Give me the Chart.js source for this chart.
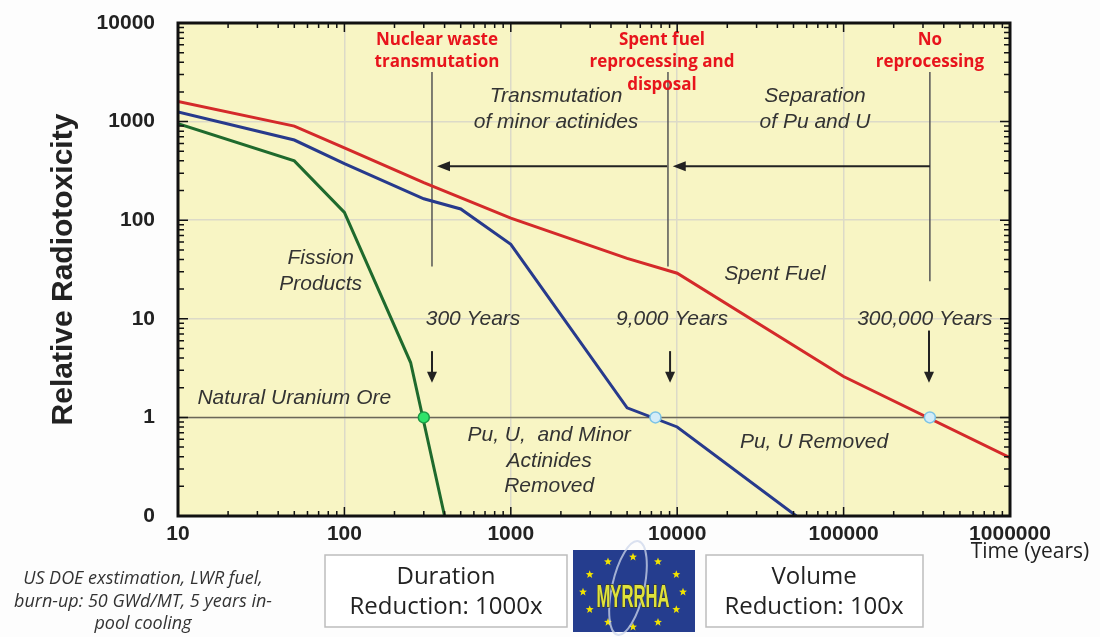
<!DOCTYPE html>
<html>
<head>
<meta charset="utf-8">
<script src="https://cdn.jsdelivr.net/npm/chart.js@4.4.1/dist/chart.umd.min.js"></script>
<style>
  html, body { margin: 0; padding: 0; background: #fdfdfd; }
  #wrap { width: 1100px; height: 637px; }
</style>
</head>
<body>
<div id="wrap"><canvas id="chart" width="1100" height="637"></canvas></div>
<script>
// values: time in years, relative radiotoxicity
const spentFuelYears = [10, 50, 100, 300, 1000, 5000, 10000, 100000, 1000000];
const spentFuelTox = [1600, 900, 540, 240, 105, 41, 29, 2.6, 0.39];

const puURemovedYears = [10, 50, 100, 300, 500, 1000, 5000, 10000, 52000];
const puURemovedTox = [1250, 650, 375, 165, 130, 57, 1.25, 0.8, 0.1];

const fissionYears = [10, 50, 100, 250, 400];
const fissionTox = [950, 400, 120, 3.6, 0.1];

const oreYears = [10, 1000000];
const oreTox = [1, 1];

// where each curve drops to the uranium ore level
const crossYears = [300, 7400, 330000];
const crossTox = [1, 1, 1];

const xTicks = [10, 100, 1000, 10000, 100000, 1000000];
const yTicks = [0.1, 1, 10, 100, 1000, 10000];

// annotation lines, in data units
const dividerYears = [336, 8800, 330000];
const dividerTop = [3180, 3180, 3180];
const dividerBottom = [34, 34, 24];
const arrowStart = [8700, 330000];
const arrowEnd = [360, 9400];
const arrowLevel = 352;
const dropYears = [336, 9060, 326000];
const dropFrom = [4.7, 4.7, 7.6];
const dropTo = [2.25, 2.25, 2.25];

const redLabels = [
  ['Nuclear waste', 360, 6710], ['transmutation', 360, 4020],
  ['Spent fuel', 8100, 6710], ['reprocessing and', 8100, 4020], ['disposal', 8100, 2345],
  ['No', 330000, 6710], ['reprocessing', 330000, 4020]
];
const noteLabels = [
  ['Transmutation', 1870, 1810], ['of minor actinides', 1870, 986],
  ['Separation', 67300, 1810], ['of Pu and U', 67300, 986],
  ['Fission', 72, 41], ['Products', 72, 22.3],
  ['Spent Fuel', 38700, 28.1],
  ['300 Years', 593, 10], ['9,000 Years', 9310, 10], ['300,000 Years', 308000, 10],
  ['Natural Uranium Ore', 50, 1.55],
  ['Pu, U,  and Minor', 1700, 0.665], ['Actinides', 1700, 0.362], ['Removed', 1700, 0.202],
  ['Pu, U Removed', 66400, 0.565]
];

function pts(xs, ys) {
  return xs.map((x, i) => ({ x: x, y: ys[i] }));
}

const decorPlugin = {
  id: 'decor',
  beforeDraw(chart) {
    const { ctx, chartArea: a } = chart;
    ctx.save();
    ctx.fillStyle = '#f8f5c4';
    ctx.fillRect(a.left, a.top, a.right - a.left, a.bottom - a.top);
    ctx.restore();
  },
  beforeDatasetsDraw(chart) {
    const { ctx, scales: { x, y } } = chart;
    ctx.save();
    ctx.strokeStyle = '#555';
    ctx.lineWidth = 1.5;
    dividerYears.forEach((t, i) => {
      const px = x.getPixelForValue(t);
      ctx.beginPath();
      ctx.moveTo(px, y.getPixelForValue(dividerTop[i]));
      ctx.lineTo(px, y.getPixelForValue(dividerBottom[i]));
      ctx.stroke();
    });
    ctx.strokeStyle = '#222';
    ctx.fillStyle = '#222';
    ctx.lineWidth = 2;
    const py = y.getPixelForValue(arrowLevel);
    arrowStart.forEach((t, i) => {
      const x0 = x.getPixelForValue(t), x1 = x.getPixelForValue(arrowEnd[i]);
      ctx.beginPath();
      ctx.moveTo(x0, py);
      ctx.lineTo(x1 + 10, py);
      ctx.stroke();
      ctx.beginPath();
      ctx.moveTo(x1, py);
      ctx.lineTo(x1 + 13, py - 5);
      ctx.lineTo(x1 + 13, py + 5);
      ctx.closePath();
      ctx.fill();
    });
    dropYears.forEach((t, i) => {
      const px = x.getPixelForValue(t);
      const y0 = y.getPixelForValue(dropFrom[i]), y1 = y.getPixelForValue(dropTo[i]);
      ctx.beginPath();
      ctx.moveTo(px, y0);
      ctx.lineTo(px, y1 - 8);
      ctx.stroke();
      ctx.beginPath();
      ctx.moveTo(px, y1);
      ctx.lineTo(px - 5, y1 - 11);
      ctx.lineTo(px + 5, y1 - 11);
      ctx.closePath();
      ctx.fill();
    });
    ctx.restore();
  },
  afterDatasetsDraw(chart) {
    const { ctx, scales: { x, y } } = chart;
    ctx.save();
    ctx.textAlign = 'center';
    ctx.textBaseline = 'middle';
    ctx.font = 'bold 17px "Open Sans"';
    ctx.fillStyle = '#e8141c';
    redLabels.forEach(l => ctx.fillText(l[0], x.getPixelForValue(l[1]), y.getPixelForValue(l[2])));
    ctx.font = 'italic 21px "Liberation Sans"';
    ctx.fillStyle = '#333';
    noteLabels.forEach(l => ctx.fillText(l[0], x.getPixelForValue(l[1]), y.getPixelForValue(l[2])));
    ctx.restore();
  },
  afterDraw(chart) {
    const { ctx, chartArea: a, scales: { x, y } } = chart;
    ctx.save();
    // inward log ticks on all four sides
    ctx.strokeStyle = '#111';
    ctx.lineWidth = 1.5;
    for (let d = 1; d < 6; d++) {
      for (let k = 1; k < 10; k++) {
        const px = x.getPixelForValue(k * Math.pow(10, d));
        const len = k === 1 ? 9 : 5;
        ctx.beginPath();
        ctx.moveTo(px, a.bottom); ctx.lineTo(px, a.bottom - len);
        ctx.moveTo(px, a.top); ctx.lineTo(px, a.top + len);
        ctx.stroke();
      }
    }
    for (let d = -1; d < 4; d++) {
      for (let k = 1; k < 10; k++) {
        const py = y.getPixelForValue(k * Math.pow(10, d));
        const len = k === 1 ? 10 : 6;
        ctx.beginPath();
        ctx.moveTo(a.left, py); ctx.lineTo(a.left + len, py);
        ctx.moveTo(a.right, py); ctx.lineTo(a.right - len, py);
        ctx.stroke();
      }
    }
    ctx.lineWidth = 3;
    ctx.strokeRect(a.left, a.top, a.right - a.left, a.bottom - a.top);

    ctx.textAlign = 'center';
    ctx.textBaseline = 'middle';
    ctx.fillStyle = '#222';
    ctx.font = '21px "Open Sans"';
    ctx.fillText('Time (years)', a.right + 20, a.bottom + 36);

    // footnote
    ctx.font = 'italic 18px "Open Sans"';
    ctx.fillStyle = '#333';
    ctx.fillText('US DOE exstimation, LWR fuel,', 143, 579);
    ctx.fillText('burn-up: 50 GWd/MT, 5 years in-', 143, 602);
    ctx.fillText('pool cooling', 143, 624);

    // summary boxes
    ctx.strokeStyle = '#bdbdbd';
    ctx.lineWidth = 1.5;
    ctx.fillStyle = '#fff';
    [[325, 242], [706, 217]].forEach(b => {
      ctx.fillRect(b[0], 555, b[1], 72);
      ctx.strokeRect(b[0], 555, b[1], 72);
    });
    ctx.fillStyle = '#222';
    ctx.font = '24px "Open Sans"';
    ctx.fillText('Duration', 446, 577);
    ctx.fillText('Reduction: 1000x', 446, 607);
    ctx.fillText('Volume', 814, 577);
    ctx.fillText('Reduction: 100x', 814, 607);

    // MYRRHA logo
    ctx.fillStyle = '#253d8e';
    ctx.fillRect(573, 550, 122, 82);
    ctx.fillStyle = '#f2e400';
    for (let i = 0; i < 12; i++) {
      const ang = i * Math.PI / 6;
      const sx = 633 + 50 * Math.sin(ang), sy = 592 - 35 * Math.cos(ang);
      ctx.beginPath();
      for (let j = 0; j < 10; j++) {
        const r = j % 2 ? 1.8 : 4.2;
        const aa = j * Math.PI / 5 - Math.PI / 2;
        ctx.lineTo(sx + r * Math.cos(aa), sy + r * Math.sin(aa));
      }
      ctx.closePath();
      ctx.fill();
    }
    ctx.strokeStyle = 'rgba(205,215,235,0.75)';
    ctx.lineWidth = 2;
    ctx.beginPath();
    ctx.ellipse(628, 588, 16, 48, 0.22, 0, Math.PI * 2);
    ctx.stroke();
    ctx.save();
    ctx.translate(633, 598);
    ctx.scale(0.52, 1);
    ctx.font = 'bold 32px "Liberation Sans"';
    ctx.fillStyle = '#dfe23c';
    ctx.strokeStyle = '#3a3a20';
    ctx.lineWidth = 1.5;
    ctx.strokeText('MYRRHA', 0, 0);
    ctx.fillText('MYRRHA', 0, 0);
    ctx.restore();
    ctx.restore();
  }
};

const majorTicks = list => scale => {
  scale.ticks = list.map(v => ({ value: v, major: true }));
};

new Chart(document.getElementById('chart'), {
  type: 'line',
  data: {
    datasets: [
      {
        label: 'Crossing points',
        data: pts(crossYears, crossTox),
        showLine: false,
        pointRadius: 5.5,
        pointBorderWidth: 1.5,
        pointBackgroundColor: ['#2fe36a', '#d3ecf8', '#d3ecf8'],
        pointBorderColor: ['#1c9a45', '#7cc3e6', '#7cc3e6'],
        order: 0
      },
      {
        label: 'Spent Fuel',
        data: pts(spentFuelYears, spentFuelTox),
        borderColor: '#d42a2a',
        borderWidth: 3,
        pointRadius: 0,
        order: 1
      },
      {
        label: 'Pu, U Removed',
        data: pts(puURemovedYears, puURemovedTox),
        borderColor: '#273a8c',
        borderWidth: 3,
        pointRadius: 0,
        order: 2
      },
      {
        label: 'Fission Products',
        data: pts(fissionYears, fissionTox),
        borderColor: '#1f6a2d',
        borderWidth: 3,
        pointRadius: 0,
        order: 3
      },
      {
        label: 'Natural Uranium Ore',
        data: pts(oreYears, oreTox),
        borderColor: '#6b6757',
        borderWidth: 1.5,
        pointRadius: 0,
        order: 4
      }
    ]
  },
  options: {
    responsive: false,
    animation: false,
    devicePixelRatio: 1,
    layout: { padding: { top: 23, right: 90, left: 0, bottom: 0 } },
    plugins: {
      legend: { display: false },
      tooltip: { enabled: false }
    },
    scales: {
      x: {
        type: 'logarithmic',
        min: 10,
        max: 1000000,
        afterBuildTicks: majorTicks(xTicks),
        afterFit: s => { s.height = 121; },
        grid: { color: '#dcdac8', lineWidth: 1.5, drawTicks: false },
        border: { display: false },
        ticks: {
          autoSkip: false,
          maxRotation: 0,
          padding: 6,
          color: '#222',
          font: { family: 'Liberation Sans', weight: 'bold', size: 21 },
          callback: v => String(v)
        }
      },
      y: {
        type: 'logarithmic',
        min: 0.1,
        max: 10000,
        afterBuildTicks: majorTicks(yTicks),
        afterFit: s => { s.width = 178; s.paddingTop = 0; s.paddingBottom = 0; },
        grid: { color: '#dcdac8', lineWidth: 1.5, drawTicks: false },
        border: { display: false },
        ticks: {
          autoSkip: false,
          padding: 23,
          color: '#222',
          font: { family: 'Liberation Sans', weight: 'bold', size: 21 },
          callback: v => (v === 0.1 ? '0' : String(v))
        },
        title: {
          display: true,
          text: 'Relative Radiotoxicity',
          color: '#222',
          padding: { top: 46, bottom: 0 },
          font: { family: 'Liberation Sans', weight: 'bold', size: 30 }
        }
      }
    }
  },
  plugins: [decorPlugin]
});
</script>
</body>
</html>
